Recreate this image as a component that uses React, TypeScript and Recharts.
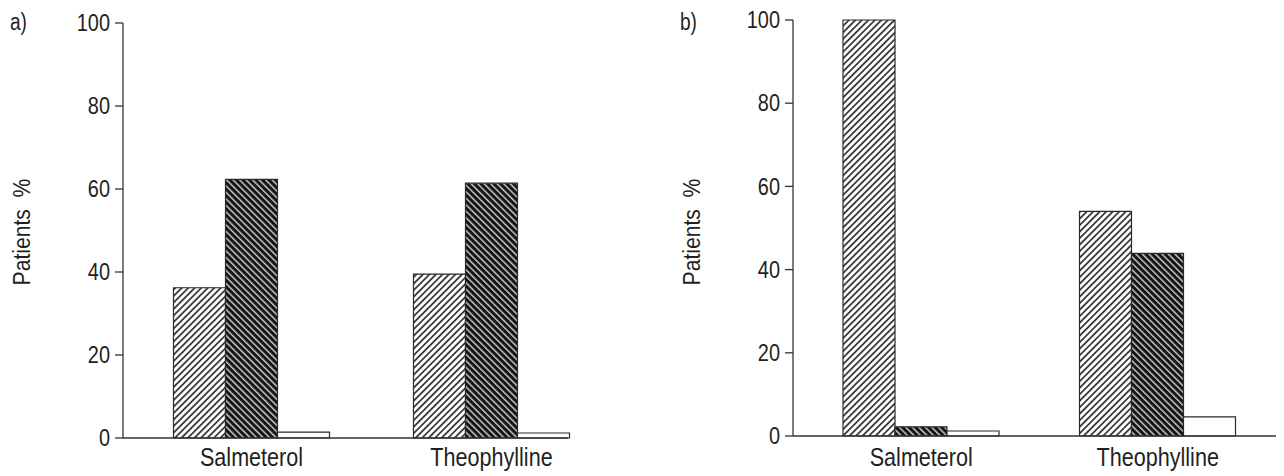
import React from "react";
import { BarChart, Bar, XAxis, YAxis, Label } from "recharts";

const categories = ["Salmeterol", "Theophylline"];
const yTicks = [0, 20, 40, 60, 80, 100];

// panel a)
const aLight = [36.2, 39.5];
const aDark = [62.3, 61.4];
const aWhite = [1.4, 1.2];

// panel b)
const bLight = [100, 54];
const bDark = [2.2, 43.9];
const bWhite = [1.2, 4.6];

const ink = "#231f20";
const font = "'Liberation Sans', Arial, sans-serif";
// the printed figure uses a condensed sans, so squeeze the text a little
const squeeze = 0.83;

const build = (light: number[], dark: number[], white: number[]) =>
  categories.map((name, i) => ({ name, light: light[i], dark: dark[i], white: white[i] }));

const YTick = (props: any) => {
  const { x, y, payload } = props;
  return (
    <text
      transform={`translate(${x},${y}) scale(${squeeze},1)`}
      textAnchor="end"
      dominantBaseline="central"
      fill={ink}
      fontSize={24}
      fontFamily={font}
    >
      {payload.value}
    </text>
  );
};

const XTick = (props: any) => {
  const { x, y, payload } = props;
  return (
    <text
      transform={`translate(${x},${y}) scale(${squeeze},1)`}
      textAnchor="middle"
      dy="0.71em"
      fill={ink}
      fontSize={26}
      fontFamily={font}
    >
      {payload.value}
    </text>
  );
};

type PanelProps = {
  id: string;
  tag: string;
  left: number;
  width: number;
  yWidth: number;
  top: number;
  xHeight: number;
  xGap: number;
  right: number;
  padLeft: number;
  padRight: number;
  labelX: number;
  tagX: number;
  rows: { name: string; light: number; dark: number; white: number }[];
};

function Panel(p: PanelProps) {
  return (
    <div style={{ position: "absolute", left: p.left, top: 0, width: p.width, height: 476 }}>
      <BarChart
        width={p.width}
        height={476}
        data={p.rows}
        margin={{ top: p.top, right: p.right, bottom: 0, left: 0 }}
        barGap={0}
      >
        <defs>
          <pattern id={`${p.id}-light`} patternUnits="userSpaceOnUse" width="4.6" height="4.6" patternTransform="rotate(45)">
            <rect width="4.6" height="4.6" fill="#ffffff" />
            <rect width="1.8" height="4.6" fill="#3a3a3a" />
          </pattern>
          <pattern id={`${p.id}-dark`} patternUnits="userSpaceOnUse" width="4.6" height="4.6" patternTransform="rotate(-45)">
            <rect width="4.6" height="4.6" fill="#141414" />
            <rect width="1.5" height="4.6" fill="#c8c8c8" />
          </pattern>
        </defs>
        <XAxis
          dataKey="name"
          height={p.xHeight}
          padding={{ left: p.padLeft, right: p.padRight }}
          tickLine={false}
          tickSize={0}
          tickMargin={p.xGap}
          axisLine={{ stroke: "#333", strokeWidth: 1.3 }}
          tick={<XTick />}
        />
        <YAxis
          width={p.yWidth}
          domain={[0, 100]}
          ticks={yTicks}
          interval={0}
          tickSize={8}
          tickMargin={5}
          axisLine={{ stroke: "#333", strokeWidth: 1.3 }}
          tickLine={{ stroke: "#333", strokeWidth: 1.3 }}
          tick={<YTick />}
        >
          <Label
            content={() => (
              <text
                transform={`translate(${p.labelX},232) rotate(-90) scale(0.88,1)`}
                textAnchor="middle"
                dominantBaseline="central"
                fill={ink}
                fontSize={24}
                fontFamily={font}
                style={{ whiteSpace: "pre" }}
              >
                {"Patients  %"}
              </text>
            )}
          />
        </YAxis>
        <Bar dataKey="light" barSize={52} fill={`url(#${p.id}-light)`} stroke="#2a2a2a" strokeWidth={1.2} isAnimationActive={false} />
        <Bar dataKey="dark" barSize={52} fill={`url(#${p.id}-dark)`} stroke="#2a2a2a" strokeWidth={1.2} isAnimationActive={false} />
        <Bar dataKey="white" barSize={52} fill="#ffffff" stroke="#2a2a2a" strokeWidth={1.2} isAnimationActive={false} />
      </BarChart>
      <div
        style={{
          position: "absolute",
          left: p.tagX,
          top: 9,
          fontFamily: font,
          fontSize: 23,
          lineHeight: "26px",
          color: ink,
          transform: `scaleX(${squeeze})`,
          transformOrigin: "left top",
        }}
      >
        {p.tag}
      </div>
    </div>
  );
}

function App() {
  return (
    <div style={{ position: "absolute", left: 0, top: 0, width: 1284, height: 476, background: "#fff" }}>
      <Panel
        id="a"
        tag="a)"
        left={0}
        width={640}
        yWidth={123}
        top={23}
        xHeight={38}
        xGap={10}
        right={72}
        padLeft={8.5}
        padRight={-43.5}
        labelX={22}
        tagX={10}
        rows={build(aLight, aDark, aWhite)}
      />
      <Panel
        id="b"
        tag="b)"
        left={640}
        width={644}
        yWidth={153}
        top={20}
        xHeight={40}
        xGap={12}
        right={8}
        padLeft={10}
        padRight={0}
        labelX={52}
        tagX={40}
        rows={build(bLight, bDark, bWhite)}
      />
    </div>
  );
}

export default App;
